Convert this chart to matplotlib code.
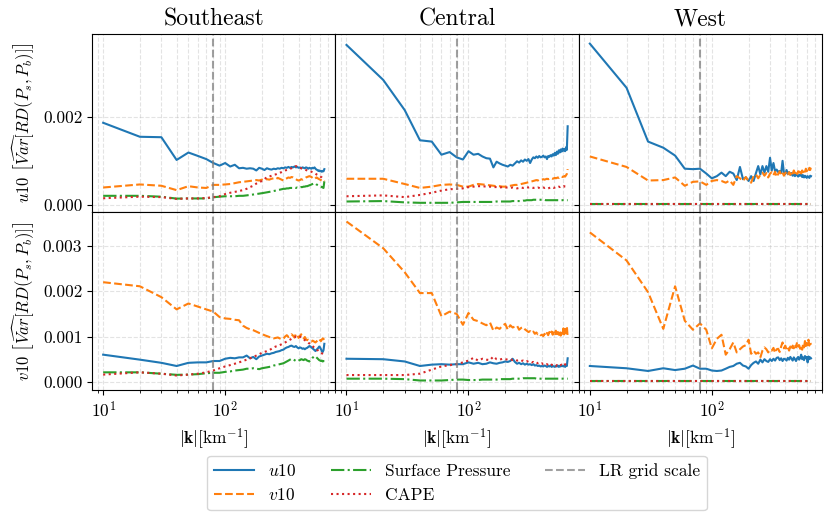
import numpy as np
import matplotlib
matplotlib.use("Agg")
import matplotlib.pyplot as plt
from matplotlib.ticker import FormatStrFormatter, FixedLocator
from matplotlib.lines import Line2D

plt.rcParams['font.family'] = 'serif'
plt.rcParams['font.serif'] = ['cmr10', 'DejaVu Serif']
plt.rcParams['mathtext.fontset'] = 'cm'
plt.rcParams['axes.formatter.use_mathtext'] = True
plt.rcParams['axes.unicode_minus'] = False

# wavenumber |k| [km^-1]
k = list(range(10, 660, 10))
lr_scale = 80

regions = ["Southeast", "Central", "West"]
variables = ["u10", "v10"]

# ---------------- top row: u10 -----------------
se_u10_u = [0.00187, 0.00155, 0.00154, 0.00102, 0.00119, 0.00111, 0.00104, 0.00095, 0.00089, 0.00095,
            0.00087, 0.00091, 0.00083, 0.00084, 0.00082, 0.00083, 0.00082, 0.00078, 0.00084, 0.00082,
            0.00079, 0.00083, 0.00081, 0.00080, 0.00082, 0.00081, 0.00083, 0.00082, 0.00084, 0.00083,
            0.00085, 0.00084, 0.00086, 0.00084, 0.00086, 0.00085, 0.00087, 0.00085, 0.00086, 0.00084,
            0.00085, 0.00083, 0.00085, 0.00084, 0.00083, 0.00085, 0.00084, 0.00082, 0.00084, 0.00083,
            0.00082, 0.00084, 0.00083, 0.00085, 0.00082, 0.00080, 0.00079, 0.00077, 0.00078, 0.00076,
            0.00077, 0.00075, 0.00077, 0.00076, 0.00081]
se_u10_v = [0.00039, 0.00046, 0.00043, 0.00033, 0.00042, 0.00039, 0.00038, 0.00045, 0.00045, 0.00046,
            0.00047, 0.00049, 0.00051, 0.00052, 0.00053, 0.00054, 0.00055, 0.00056, 0.00055, 0.00057,
            0.00056, 0.00058, 0.00057, 0.00059, 0.00060, 0.00058, 0.00061, 0.00059, 0.00057, 0.00055,
            0.00058, 0.00060, 0.00062, 0.00061, 0.00063, 0.00062, 0.00060, 0.00058, 0.00056, 0.00055,
            0.00056, 0.00058, 0.00057, 0.00059, 0.00060, 0.00062, 0.00063, 0.00064, 0.00065, 0.00064,
            0.00063, 0.00061, 0.00059, 0.00058, 0.00060, 0.00062, 0.00061, 0.00059, 0.00058, 0.00057,
            0.00056, 0.00055, 0.00054, 0.00056, 0.00053]
se_u10_sp = [0.00020, 0.00020, 0.00018, 0.000136, 0.00014, 0.00014, 0.00014, 0.000167, 0.00018, 0.00019,
             0.00019, 0.00019, 0.00020, 0.00020, 0.00021, 0.00022, 0.00023, 0.00024, 0.00025, 0.00026,
             0.00027, 0.00028, 0.00029, 0.00030, 0.00031, 0.00032, 0.00033, 0.00034, 0.00035, 0.00036,
             0.00036, 0.00037, 0.00037, 0.00038, 0.00038, 0.00038, 0.00039, 0.00038, 0.00039, 0.00038,
             0.00039, 0.00040, 0.00040, 0.00041, 0.00041, 0.00042, 0.00042, 0.00043, 0.00044, 0.00045,
             0.00046, 0.00047, 0.00048, 0.00049, 0.00048, 0.00046, 0.00045, 0.00044, 0.00043, 0.00042,
             0.00041, 0.00040, 0.00039, 0.00038, 0.00053]
se_u10_cape = [0.000144, 0.00018, 0.00017, 0.00013, 0.00014, 0.00014, 0.00015, 0.00017, 0.00019, 0.00024,
               0.00027, 0.00029, 0.00031, 0.00033, 0.00036, 0.00040, 0.00043, 0.00048, 0.00051, 0.00054,
               0.00058, 0.00063, 0.00064, 0.00066, 0.00068, 0.00069, 0.00071, 0.00073, 0.00074, 0.00076,
               0.00078, 0.00079, 0.00080, 0.00082, 0.00083, 0.00085, 0.00086, 0.00088, 0.00087, 0.00085,
               0.00084, 0.00083, 0.00082, 0.00081, 0.00080, 0.00079, 0.00078, 0.00077, 0.00077, 0.00076,
               0.00075, 0.00074, 0.00073, 0.00072, 0.00071, 0.00069, 0.00068, 0.00067, 0.00066, 0.00065,
               0.00063, 0.00062, 0.00060, 0.00059, 0.00057]

ce_u10_u = [0.00365, 0.00285, 0.00216, 0.00147, 0.00144, 0.00114, 0.00120, 0.00108, 0.00103, 0.00122,
            0.00114, 0.00116, 0.00110, 0.00106, 0.00105, 0.00085, 0.00098, 0.00094, 0.00091, 0.00089,
            0.00087, 0.00091, 0.00089, 0.00094, 0.00099, 0.00096, 0.00101, 0.00098, 0.00103, 0.00100,
            0.00104, 0.00095, 0.00103, 0.00108, 0.00106, 0.00110, 0.00107, 0.00111, 0.00108, 0.00109,
            0.00112, 0.00108, 0.00110, 0.00104, 0.00111, 0.00109, 0.00113, 0.00110, 0.00115, 0.00112,
            0.00118, 0.00113, 0.00121, 0.00116, 0.00124, 0.00119, 0.00126, 0.00121, 0.00128, 0.00123,
            0.00127, 0.00122, 0.00131, 0.00125, 0.00179]
ce_u10_v = [0.00059, 0.00059, 0.00047, 0.00038, 0.00041, 0.00045, 0.00046, 0.00045, 0.00041, 0.00041,
            0.00045, 0.00047, 0.00046, 0.00045, 0.00044, 0.00043, 0.00042, 0.00042, 0.00041, 0.00041,
            0.00042, 0.00043, 0.00044, 0.00045, 0.00045, 0.00046, 0.00047, 0.00048, 0.00049, 0.00050,
            0.00051, 0.00052, 0.00053, 0.00054, 0.00055, 0.00056, 0.00055, 0.00057, 0.00056, 0.00057,
            0.00058, 0.00057, 0.00058, 0.00059, 0.00058, 0.00059, 0.00058, 0.00060, 0.00059, 0.00060,
            0.00061, 0.00060, 0.00061, 0.00062, 0.00061, 0.00063, 0.00062, 0.00064, 0.00063, 0.00064,
            0.00065, 0.00064, 0.00067, 0.00070, 0.00081]
ce_u10_sp = [0.00007, 0.00008, 0.00005, 0.00004, 0.00004, 0.00004, 0.00004, 0.00005, 0.00006, 0.00006,
             0.00006, 0.00006, 0.00006, 0.00006, 0.00006, 0.00006, 0.00007, 0.00007, 0.00007, 0.00007,
             0.00007, 0.00007, 0.00008, 0.00008, 0.00008, 0.00008, 0.00008, 0.00009, 0.00009, 0.00010,
             0.00010, 0.00010, 0.00010, 0.00011, 0.00011, 0.00011, 0.00011, 0.00011, 0.00011, 0.00011,
             0.00011, 0.00011, 0.00010, 0.00010, 0.00010, 0.00010, 0.00010, 0.00010, 0.00010, 0.00010,
             0.00010, 0.00010, 0.00010, 0.00010, 0.00010, 0.00010, 0.00010, 0.00010, 0.00010, 0.00010,
             0.00010, 0.00010, 0.00010, 0.00010, 0.00010]
ce_u10_cape = [0.00019, 0.00021, 0.00017, 0.00022, 0.00027, 0.00032, 0.00035, 0.00036, 0.00037, 0.00040,
               0.00041, 0.00042, 0.00042, 0.00041, 0.00041, 0.00040, 0.00040, 0.00039, 0.00040, 0.00039,
               0.00039, 0.00038, 0.00039, 0.00038, 0.00037, 0.00038, 0.00039, 0.00038, 0.00039, 0.00040,
               0.00039, 0.00040, 0.00039, 0.00038, 0.00039, 0.00038, 0.00039, 0.00038, 0.00037, 0.00038,
               0.00039, 0.00038, 0.00039, 0.00038, 0.00037, 0.00038, 0.00039, 0.00038, 0.00039, 0.00038,
               0.00039, 0.00040, 0.00039, 0.00040, 0.00041, 0.00040, 0.00041, 0.00040, 0.00041, 0.00042,
               0.00041, 0.00042, 0.00042, 0.00043, 0.00043]

we_u10_u = [0.00368, 0.00267, 0.00144, 0.00130, 0.00112, 0.00082, 0.00081, 0.00082, 0.00071, 0.00060,
            0.00065, 0.00073, 0.00065, 0.00075, 0.00071, 0.00056, 0.00086, 0.00058, 0.00062, 0.00054,
            0.00065, 0.00054, 0.00072, 0.00088, 0.00069, 0.00088, 0.00073, 0.00088, 0.00075, 0.00107,
            0.00078, 0.00095, 0.00076, 0.00080, 0.00074, 0.00077, 0.00072, 0.00100, 0.00072, 0.00070,
            0.00079, 0.00070, 0.00074, 0.00068, 0.00072, 0.00066, 0.00070, 0.00065, 0.00069, 0.00067,
            0.00064, 0.00068, 0.00066, 0.00070, 0.00063, 0.00067, 0.00062, 0.00066, 0.00064, 0.00061,
            0.00065, 0.00063, 0.00061, 0.00066, 0.00065]
we_u10_v = [0.00110, 0.00086, 0.00055, 0.00056, 0.00062, 0.00043, 0.00052, 0.00053, 0.00045, 0.00054,
            0.00056, 0.00054, 0.00050, 0.00055, 0.00045, 0.00065, 0.00060, 0.00054, 0.00063, 0.00054,
            0.00050, 0.00065, 0.00069, 0.00060, 0.00068, 0.00073, 0.00066, 0.00072, 0.00062, 0.00071,
            0.00074, 0.00067, 0.00075, 0.00063, 0.00070, 0.00076, 0.00068, 0.00073, 0.00066, 0.00072,
            0.00075, 0.00069, 0.00074, 0.00068, 0.00076, 0.00071, 0.00078, 0.00072, 0.00077, 0.00070,
            0.00076, 0.00073, 0.00079, 0.00071, 0.00078, 0.00074, 0.00080, 0.00075, 0.00082, 0.00076,
            0.00081, 0.00077, 0.00084, 0.00079, 0.00086]
we_u10_sp = [0.00001] * 65
we_u10_cape = [0.00001] * 65

# ---------------- bottom row: v10 -----------------
se_v10_u = [0.00060, 0.00049, 0.00042, 0.00035, 0.00042, 0.00043, 0.00043, 0.00046, 0.00046, 0.00051,
            0.00053, 0.00052, 0.00054, 0.00054, 0.00058, 0.00052, 0.00055, 0.00050, 0.00056, 0.00058,
            0.00060, 0.00062, 0.00061, 0.00063, 0.00064, 0.00066, 0.00067, 0.00068, 0.00070, 0.00071,
            0.00074, 0.00076, 0.00077, 0.00079, 0.00080, 0.00078, 0.00077, 0.00079, 0.00076, 0.00074,
            0.00076, 0.00075, 0.00073, 0.00074, 0.00072, 0.00074, 0.00075, 0.00077, 0.00079, 0.00078,
            0.00076, 0.00074, 0.00072, 0.00070, 0.00068, 0.00070, 0.00073, 0.00075, 0.00078, 0.00076,
            0.00072, 0.00068, 0.00066, 0.00070, 0.00084]
se_v10_v = [0.00220, 0.00211, 0.00187, 0.00160, 0.00173, 0.00166, 0.00160, 0.00155, 0.00143, 0.00140,
            0.00139, 0.00137, 0.00136, 0.00124, 0.00119, 0.00116, 0.00114, 0.00111, 0.00108, 0.00106,
            0.00103, 0.00101, 0.00099, 0.00097, 0.00096, 0.00097, 0.00098, 0.00096, 0.00094, 0.00095,
            0.00100, 0.00103, 0.00099, 0.00101, 0.00105, 0.00102, 0.00098, 0.00106, 0.00103, 0.00097,
            0.00101, 0.00105, 0.00100, 0.00096, 0.00099, 0.00094, 0.00092, 0.00093, 0.00091, 0.00090,
            0.00089, 0.00091, 0.00090, 0.00088, 0.00087, 0.00089, 0.00091, 0.00093, 0.00095, 0.00092,
            0.00090, 0.00093, 0.00096, 0.00094, 0.00097]
se_v10_sp = [0.00021, 0.00021, 0.00018, 0.000155, 0.00016, 0.00017, 0.00019, 0.00020, 0.00020, 0.00022,
             0.00023, 0.00025, 0.00026, 0.00027, 0.00029, 0.00029, 0.00030, 0.00029, 0.00028, 0.00030,
             0.00031, 0.00032, 0.00033, 0.00034, 0.00036, 0.00037, 0.00038, 0.00039, 0.00040, 0.00041,
             0.00043, 0.00045, 0.00047, 0.00049, 0.00051, 0.00050, 0.00048, 0.00046, 0.00045, 0.00047,
             0.00048, 0.00050, 0.00049, 0.00048, 0.00050, 0.00049, 0.00047, 0.00046, 0.00045, 0.00047,
             0.00050, 0.00053, 0.00055, 0.00057, 0.00056, 0.00054, 0.00052, 0.00050, 0.00048, 0.00047,
             0.00046, 0.00047, 0.00045, 0.00046, 0.00046]
se_v10_cape = [0.00016, 0.00021, 0.00018, 0.00014, 0.00016, 0.00018, 0.00021, 0.00025, 0.00030, 0.00034,
               0.00037, 0.00040, 0.00043, 0.00046, 0.00049, 0.00052, 0.00055, 0.00058, 0.00061, 0.00064,
               0.00066, 0.00068, 0.00070, 0.00073, 0.00076, 0.00078, 0.00079, 0.00081, 0.00083, 0.00085,
               0.00087, 0.00089, 0.00091, 0.00093, 0.00095, 0.00097, 0.00098, 0.00100, 0.00099, 0.00101,
               0.00100, 0.00098, 0.00096, 0.00094, 0.00092, 0.00090, 0.00088, 0.00086, 0.00085, 0.00083,
               0.00081, 0.00079, 0.00077, 0.00076, 0.00074, 0.00072, 0.00070, 0.00069, 0.00067, 0.00066,
               0.00064, 0.00063, 0.00062, 0.00061, 0.00060]

ce_v10_u = [0.00051, 0.00050, 0.00045, 0.00035, 0.00038, 0.00039, 0.00038, 0.00039, 0.00039, 0.00043,
            0.00040, 0.00042, 0.00039, 0.00040, 0.00043, 0.00041, 0.00040, 0.00042, 0.00043, 0.00045,
            0.00044, 0.00046, 0.00051, 0.00044, 0.00040, 0.00042, 0.00039, 0.00041, 0.00038, 0.00040,
            0.00038, 0.00039, 0.00037, 0.00039, 0.00036, 0.00037, 0.00035, 0.00036, 0.00034, 0.00035,
            0.00034, 0.00036, 0.00035, 0.00033, 0.00035, 0.00034, 0.00036, 0.00033, 0.00035, 0.00034,
            0.00033, 0.00035, 0.00034, 0.00036, 0.00033, 0.00035, 0.00034, 0.00036, 0.00035, 0.00034,
            0.00036, 0.00033, 0.00037, 0.00035, 0.00052]
ce_v10_v = [0.00354, 0.00295, 0.00242, 0.00196, 0.00196, 0.00145, 0.00155, 0.00150, 0.00126, 0.00152,
            0.00137, 0.00134, 0.00129, 0.00125, 0.00131, 0.00113, 0.00120, 0.00117, 0.00124, 0.00128,
            0.00115, 0.00125, 0.00120, 0.00122, 0.00124, 0.00115, 0.00119, 0.00121, 0.00116, 0.00113,
            0.00110, 0.00112, 0.00108, 0.00111, 0.00106, 0.00109, 0.00105, 0.00107, 0.00103, 0.00104,
            0.00101, 0.00106, 0.00102, 0.00108, 0.00103, 0.00110, 0.00105, 0.00111, 0.00104, 0.00112,
            0.00106, 0.00113, 0.00101, 0.00110, 0.00104, 0.00114, 0.00102, 0.00113, 0.00106, 0.00118,
            0.00105, 0.00120, 0.00108, 0.00123, 0.00098]
ce_v10_sp = [0.00007, 0.00007, 0.00006, 0.00003, 0.00003, 0.00003, 0.00004, 0.00005, 0.00005, 0.00004,
             0.00004, 0.00004, 0.00005, 0.00005, 0.00005, 0.00005, 0.00005, 0.00006, 0.00006, 0.00006,
             0.00006, 0.00006, 0.00007, 0.00007, 0.00007, 0.00007, 0.00007, 0.00008, 0.00008, 0.00008,
             0.00008, 0.00008, 0.00008, 0.00008, 0.00008, 0.00007, 0.00007, 0.00007, 0.00007, 0.00007,
             0.00007, 0.00007, 0.00007, 0.00007, 0.00007, 0.00007, 0.00007, 0.00007, 0.00007, 0.00007,
             0.00007, 0.00007, 0.00007, 0.00007, 0.00007, 0.00007, 0.00007, 0.00007, 0.00007, 0.00007,
             0.00007, 0.00007, 0.00007, 0.00007, 0.00007]
ce_v10_cape = [0.00015, 0.00015, 0.00015, 0.00018, 0.00027, 0.00034, 0.00037, 0.00039, 0.00043, 0.00047,
               0.00053, 0.00047, 0.00051, 0.00049, 0.00048, 0.00056, 0.00050, 0.00049, 0.00051, 0.00050,
               0.00049, 0.00050, 0.00048, 0.00049, 0.00047, 0.00048, 0.00046, 0.00047, 0.00045, 0.00046,
               0.00044, 0.00045, 0.00043, 0.00044, 0.00042, 0.00043, 0.00041, 0.00042, 0.00040, 0.00041,
               0.00039, 0.00040, 0.00038, 0.00039, 0.00037, 0.00038, 0.00036, 0.00038, 0.00037, 0.00036,
               0.00037, 0.00035, 0.00037, 0.00036, 0.00038, 0.00036, 0.00037, 0.00038, 0.00036, 0.00038,
               0.00037, 0.00039, 0.00036, 0.00038, 0.00036]

we_v10_u = [0.00035, 0.00030, 0.00024, 0.00030, 0.00026, 0.00029, 0.00036, 0.00029, 0.00029, 0.00025,
            0.00024, 0.00025, 0.00029, 0.00033, 0.00035, 0.00040, 0.00042, 0.00036, 0.00034, 0.00029,
            0.00037, 0.00042, 0.00045, 0.00040, 0.00049, 0.00043, 0.00050, 0.00046, 0.00044, 0.00050,
            0.00046, 0.00051, 0.00047, 0.00053, 0.00054, 0.00048, 0.00052, 0.00046, 0.00051, 0.00050,
            0.00047, 0.00053, 0.00049, 0.00055, 0.00051, 0.00047, 0.00054, 0.00050, 0.00046, 0.00052,
            0.00055, 0.00049, 0.00053, 0.00060, 0.00050, 0.00054, 0.00048, 0.00057, 0.00052, 0.00055,
            0.00043, 0.00056, 0.00050, 0.00054, 0.00052]
we_v10_v = [0.00330, 0.00268, 0.00198, 0.00117, 0.00211, 0.00135, 0.00115, 0.00129, 0.00115, 0.00074,
            0.00095, 0.00104, 0.00060, 0.00072, 0.00087, 0.00065, 0.00072, 0.00078, 0.00081, 0.00093,
            0.00062, 0.00069, 0.00062, 0.00065, 0.00054, 0.00069, 0.00076, 0.00072, 0.00065, 0.00071,
            0.00069, 0.00075, 0.00064, 0.00072, 0.00073, 0.00066, 0.00078, 0.00087, 0.00074, 0.00080,
            0.00071, 0.00076, 0.00069, 0.00078, 0.00072, 0.00080, 0.00074, 0.00083, 0.00076, 0.00088,
            0.00078, 0.00081, 0.00073, 0.00079, 0.00071, 0.00083, 0.00076, 0.00090, 0.00079, 0.00086,
            0.00081, 0.00093, 0.00080, 0.00087, 0.00082]
we_v10_sp = [0.00001] * 65
we_v10_cape = [0.00001] * 65

data = {
    ("u10", "Southeast"): (se_u10_u, se_u10_v, se_u10_sp, se_u10_cape),
    ("u10", "Central"): (ce_u10_u, ce_u10_v, ce_u10_sp, ce_u10_cape),
    ("u10", "West"): (we_u10_u, we_u10_v, we_u10_sp, we_u10_cape),
    ("v10", "Southeast"): (se_v10_u, se_v10_v, se_v10_sp, se_v10_cape),
    ("v10", "Central"): (ce_v10_u, ce_v10_v, ce_v10_sp, ce_v10_cape),
    ("v10", "West"): (we_v10_u, we_v10_v, we_v10_sp, we_v10_cape),
}

series_labels = [r"$u10$", r"$v10$", "Surface Pressure", "CAPE"]
series_colors = ["#1f77b4", "#ff7f0e", "#2ca02c", "#d62728"]
series_styles = ["-", "--", "-.", ":"]

row_yticks = [[0.0, 0.002], [0.0, 0.001, 0.002, 0.003]]
row_ylim = [(-0.00017, 0.0039), (-0.00018, 0.00375)]

fig, axes = plt.subplots(2, 3, figsize=(8.31, 5.15), dpi=100, sharex=True, sharey='row')
fig.subplots_adjust(left=92/831, right=822/831, top=1-34/515, bottom=1-390/515,
                    wspace=0, hspace=0)

FS = 12.5
for r, var in enumerate(variables):
    for c, reg in enumerate(regions):
        ax = axes[r, c]
        vals = data[(var, reg)]
        for v, lab, col, ls in zip(vals, series_labels, series_colors, series_styles):
            ax.plot(k, v, color=col, linestyle=ls, lw=1.5, label=lab)
        ax.axvline(lr_scale, color='gray', linestyle='--', lw=1.5, alpha=0.75)
        ax.set_xscale('log')
        ax.set_xlim(8.1, 800)
        ax.set_ylim(*row_ylim[r])
        ax.yaxis.set_major_locator(FixedLocator(row_yticks[r]))
        ax.yaxis.set_major_formatter(FormatStrFormatter('%.3f'))
        ax.grid(True, which='both', linestyle='--', color='#b0b0b0', alpha=0.35, lw=0.8)
        ax.tick_params(labelsize=FS)
        if r == 0:
            ax.set_title(reg, fontsize=17)
        if r == 1:
            ax.set_xlabel(r"$|\mathbf{k}|[\mathrm{km}^{-1}]$", fontsize=FS)
        if c == 0:
            ax.set_ylabel(r"$%s\ \left[\widehat{Var}[RD(P_s,P_b)]\right]$" % var, fontsize=12)

handles = [Line2D([], [], color=col, linestyle=ls, lw=1.5) for col, ls in zip(series_colors, series_styles)]
handles.append(Line2D([], [], color='gray', linestyle='--', lw=1.5, alpha=0.75))
labels = series_labels + ["LR grid scale"]
fig.legend(handles, labels, loc='upper center', bbox_to_anchor=(457/831, 1-447/515),
           ncol=3, fontsize=FS, frameon=True, columnspacing=2.0, handlelength=2.3)

fig.savefig("out.png", dpi=100)
